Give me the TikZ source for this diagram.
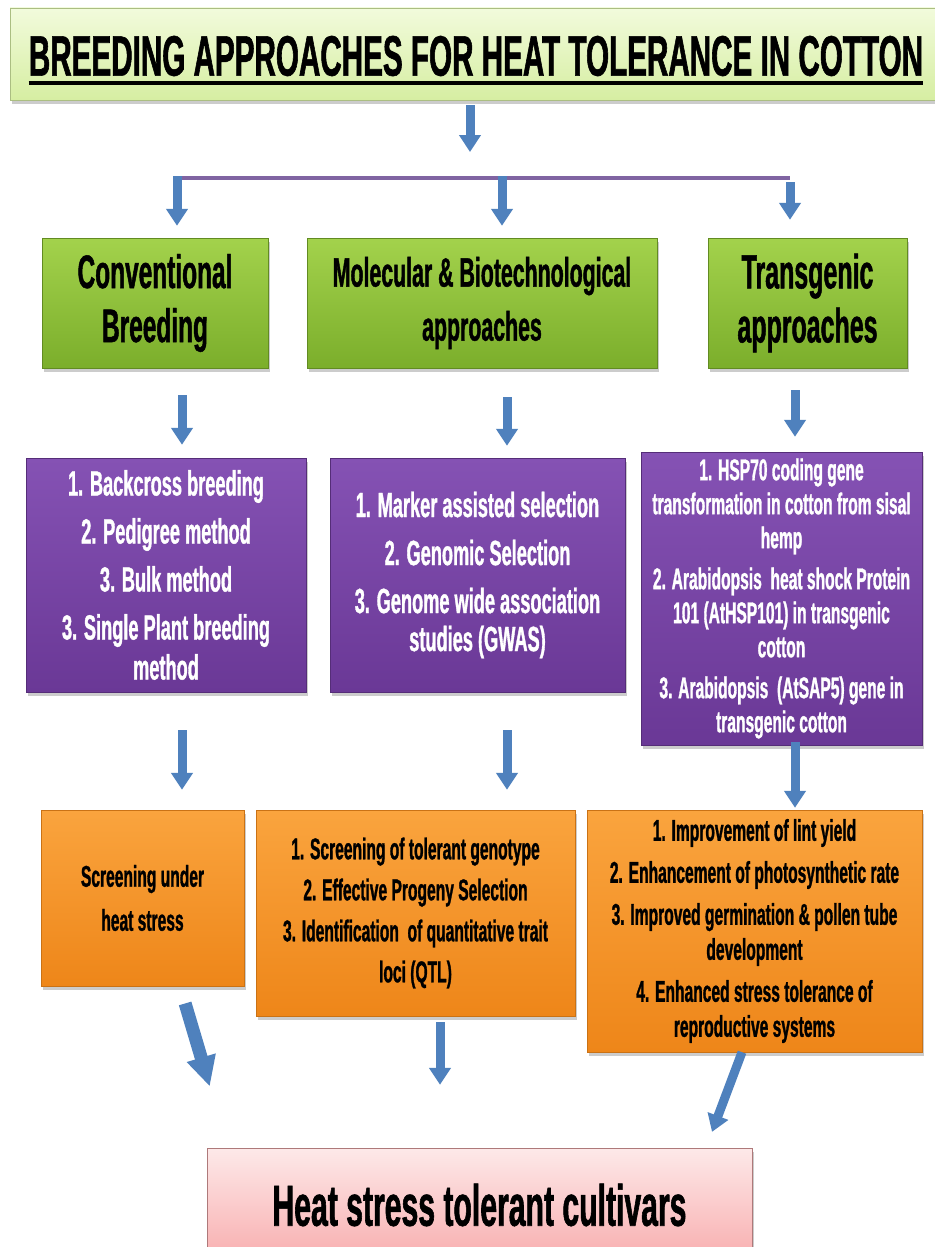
\documentclass[tikz,border=0pt]{standalone}
\usepackage{fontspec}
\newfontfamily\narrowfont{Liberation Sans}[FakeStretch=0.52,BoldFeatures={FakeBold=1}]
\usetikzlibrary{arrows.meta,shadows}
\definecolor{arrowblue}{HTML}{4F81BD}
\definecolor{barpurple}{HTML}{8064A2}
\definecolor{ttltop}{HTML}{F2FBDC}
\definecolor{ttlbot}{HTML}{D6EEA2}
\definecolor{grtop}{HTML}{A3D24C}
\definecolor{grbot}{HTML}{7BAE2B}
\definecolor{putop}{HTML}{8552B4}
\definecolor{pubot}{HTML}{6A3896}
\definecolor{ortop}{HTML}{FAA43E}
\definecolor{orbot}{HTML}{EE8619}
\definecolor{pktop}{HTML}{FDE9E9}
\definecolor{pkbot}{HTML}{F8ADAE}
\newcommand{\fsz}[2]{\fontsize{#1}{#2}\selectfont}
\tikzset{
  box/.style={rectangle, align=center, inner sep=2pt,
              drop shadow={shadow xshift=2pt,shadow yshift=-4pt,opacity=0.4}},
  tbox/.style={box, draw=ttlbot!80!black, top color=ttltop, bottom color=ttlbot},
  gbox/.style={box, draw=grbot!80!black, top color=grtop, bottom color=grbot,
               minimum height=130pt},
  pbox/.style={box, draw=pubot!80!black, top color=putop, bottom color=pubot,
               text=white},
  obox/.style={box, draw=orbot!85!black, top color=ortop, bottom color=orbot},
  rbox/.style={box, draw=pkbot!70!black, top color=pktop, bottom color=pkbot},
  flow/.style={-{Triangle[length=17pt,width=21pt]}, line width=9pt, draw=arrowblue},
  fatflow/.style={-{Triangle[length=30pt,width=28pt]}, line width=13pt, draw=arrowblue},
  bar/.style={line width=4pt, draw=barpurple},
}

\begin{document}
\begin{tikzpicture}[x=1pt,y=-1pt]
  \useasboundingbox (0,0) rectangle (934,1247);
  \fill[white] (0,0) rectangle (934,1247);

  \node[tbox,minimum width=935pt,minimum height=92pt] (title) at (477.5,54) {};
  \node[inner sep=0pt,font=\narrowfont\bfseries\fsz{57}{57}] (ttl) at (476,56)
    {BREEDING APPROACHES FOR HEAT TOLERANCE IN COTTON};
  \draw[line width=4pt] ([yshift=-7pt]ttl.base west) -- ([yshift=-7pt]ttl.base east);

  % approaches
  \node[gbox,minimum width=226pt,font=\narrowfont\bfseries\fsz{47}{54}] (conv)
    at (155,303) {Conventional\\Breeding};
  \node[gbox,minimum width=350pt,font=\narrowfont\bfseries\fsz{41}{54}] (mol)
    at (482,303) {Molecular \& Biotechnological\\approaches};
  \node[gbox,minimum width=199pt,font=\narrowfont\bfseries\fsz{48}{54}] (trans)
    at (807.5,303) {Transgenic\\approaches};

  % methods
  \node[pbox,minimum width=280pt,minimum height=234pt,
        font=\narrowfont\bfseries\fsz{35}{40}] (pconv) at (166,575)
    {1. Backcross breeding\\[8pt]2. Pedigree method\\[8pt]3. Bulk method\\[8pt]
     3. Single Plant breeding\\method};
  \node[pbox,minimum width=295pt,minimum height=234pt,
        font=\narrowfont\bfseries\fsz{35}{38}] (pmol) at (477.5,575)
    {1. Marker assisted selection\\[10pt]2. Genomic Selection\\[10pt]
     3. Genome wide association\\studies (GWAS)};
  \node[pbox,minimum width=281pt,minimum height=293pt,
        font=\narrowfont\bfseries\fsz{30}{34}] (ptrans) at (781.5,598.5)
    {1. HSP70 coding gene\\transformation in cotton from sisal\\hemp\\[7pt]
     2. Arabidopsis\ \ heat shock Protein\\101 (AtHSP101) in transgenic\\cotton\\[7pt]
     3. Arabidopsis\ \ (AtSAP5) gene in\\transgenic cotton};

  % outcomes
  \node[obox,minimum width=203pt,minimum height=176pt,
        font=\narrowfont\bfseries\fsz{30}{44}] (oconv) at (142.5,898)
    {Screening under\\heat stress};
  \node[obox,minimum width=319pt,minimum height=206pt,
        font=\narrowfont\bfseries\fsz{30}{41}] (omol) at (415.5,913)
    {1. Screening of tolerant genotype\\2. Effective Progeny Selection\\
     3. Identification\ \ of quantitative trait\\loci (QTL)};
  \node[obox,minimum width=335pt,minimum height=242pt,
        font=\narrowfont\bfseries\fsz{30}{35}] (otrans) at (754.5,931)
    {1. Improvement of lint yield\\[7pt]2. Enhancement of photosynthetic rate\\[7pt]
     3. Improved germination \& pollen tube\\development\\[7pt]
     4. Enhanced stress tolerance of\\reproductive systems};

  \node[rbox,minimum width=545pt,minimum height=114pt,
        font=\narrowfont\bfseries\fsz{58}{58}] (result) at (479.5,1205)
    {Heat stress tolerant cultivars};

  % splitting bar
  \coordinate (hub) at (470,178);
  \coordinate (barL) at (177,178);
  \coordinate (barM) at (502,178);
  \coordinate (barR) at (790,178);
  \draw[flow,shorten <=5pt,shorten >=26pt] (title.south -| hub) -- (hub);
  \draw[bar] (barL) -- (barR);
  \draw[flow,shorten <=-2pt,shorten >=12pt] (barL) -- (barL |- conv.north);
  \draw[flow,shorten <=-2pt,shorten >=12pt] (barM) -- (barM |- mol.north);
  \draw[flow,shorten <=4pt,shorten >=18pt] (barR) -- (barR |- trans.north);

  % approaches to methods
  \draw[flow,shorten <=27pt,shorten >=13pt]
    ([xshift=27pt]conv.south) -- ([xshift=27pt]conv.south |- pconv.north);
  \draw[flow,shorten <=29pt,shorten >=12pt]
    ([xshift=25pt]mol.south) -- ([xshift=25pt]mol.south |- pmol.north);
  \draw[flow,shorten <=22pt,shorten >=15pt]
    ([xshift=-12.5pt]trans.south) -- ([xshift=-12.5pt]trans.south |- ptrans.north);

  % methods to outcomes
  \draw[flow,shorten <=38pt,shorten >=20pt]
    ([xshift=16pt]pconv.south) -- ([xshift=16pt]pconv.south |- oconv.north);
  \draw[flow,shorten <=38pt,shorten >=20pt]
    ([xshift=29.5pt]pmol.south) -- ([xshift=29.5pt]pmol.south |- omol.north);
  \draw[flow,shorten <=-3pt,shorten >=2pt]
    ([xshift=13.5pt]ptrans.south) -- ([xshift=13.5pt]ptrans.south |- otrans.north);

  % outcomes to cultivars
  \draw[fatflow,shorten <=18pt,shorten >=64pt]
    ([xshift=37.5pt]oconv.south) -- ([xshift=-251.5pt]result.north);
  \draw[flow,shorten <=6pt,shorten >=63pt]
    ([xshift=24.5pt]omol.south) -- ([xshift=24.5pt]omol.south |- result.north);
  \draw[flow,shorten >=17pt]
    ([xshift=-12.5pt]otrans.south) -- ([xshift=226.5pt]result.north);
\end{tikzpicture}
\end{document}
